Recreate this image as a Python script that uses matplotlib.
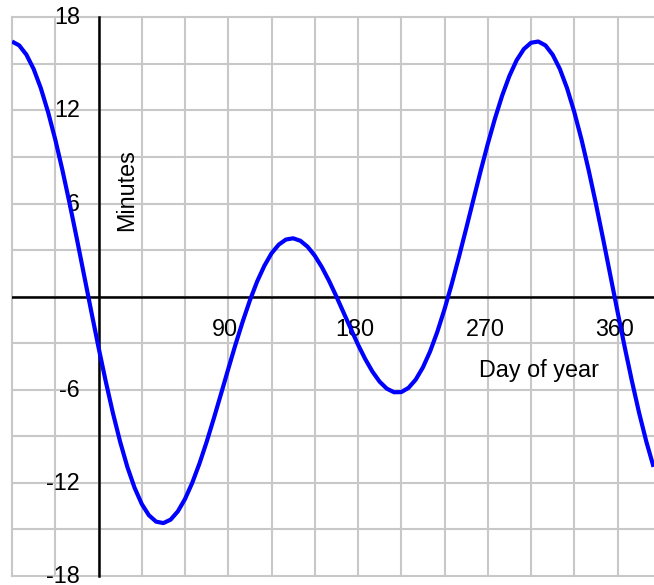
import matplotlib
matplotlib.use("Agg")
from matplotlib import pyplot as plt

# equation of time, minutes, every 5 days
days = list(range(-60, 390, 5))
minutes = [
    16.44, 16.19, 15.59, 14.67, 13.43, 11.90, 10.13, 8.14, 5.99, 3.72, 1.38, -0.96,
    -3.26, -5.45, -7.50, -9.35, -10.97, -12.31, -13.36, -14.09, -14.50, -14.59,
    -14.37, -13.84, -13.04, -12.00, -10.76, -9.36, -7.84, -6.26, -4.66, -3.09,
    -1.61, -0.24, 0.97, 1.98, 2.79, 3.35, 3.68, 3.76, 3.60, 3.22, 2.64, 1.89,
    1.00, 0.01, -1.03, -2.07, -3.09, -4.02, -4.83, -5.48, -5.93, -6.16, -6.15,
    -5.88, -5.35, -4.56, -3.53, -2.27, -0.81, 0.81, 2.56, 4.38, 6.24, 8.08,
    9.84, 11.48, 12.96, 14.22, 15.23, 15.95, 16.36, 16.44, 16.19, 15.59, 14.67,
    13.43, 11.90, 10.13, 8.14, 5.99, 3.72, 1.38, -0.96, -3.26, -5.45, -7.50,
    -9.35, -10.97,
]
xlabels = [90, 180, 270, 360]
ylabels = [18, 12, 6, -6, -12, -18]

plt.rcParams['font.family'] = ['Liberation Sans', 'DejaVu Sans']
fs = 16.8

fig = plt.figure(figsize=(6.54, 5.85), dpi=100)
ax = fig.add_axes([12 / 654, 9 / 585, 642 / 654, 558.7 / 585])
ax.set_xlim(-60, 385.3)
ax.set_ylim(-18, 18)

# grid
for x in range(-60, 390, 30):
    ax.axvline(x, color='#c8c8c8', lw=1.5, zorder=1, clip_on=False)
for y in range(-18, 21, 3):
    ax.axhline(y, color='#c8c8c8', lw=1.5, zorder=1, clip_on=False)

# axes lines
ax.axhline(0, color='black', lw=1.8, zorder=3)
ax.plot([0, 0], [-18, 18], color='black', lw=1.8, zorder=3, clip_on=False)

ax.plot(days, minutes, color='#0000ff', lw=3, zorder=5,
        solid_capstyle='butt', solid_joinstyle='round')

for v in ylabels:
    ax.text(-13, v - 0.45, str(v), ha='right', va='baseline', fontsize=fs, zorder=2)
for v in xlabels:
    ax.text(v - 2, -2.56, str(v), ha='center', va='baseline', fontsize=fs, zorder=2)

ax.text(305.8, -5.2, 'Day of year', ha='center', va='baseline', fontsize=fs, zorder=2)
ax.text(23.8, 6.88, 'Minutes', rotation=90, rotation_mode='anchor',
        ha='center', va='baseline', fontsize=fs, zorder=2)

ax.set_xticks([])
ax.set_yticks([])
for s in ax.spines.values():
    s.set_visible(False)

fig.savefig('out.png', dpi=100)
